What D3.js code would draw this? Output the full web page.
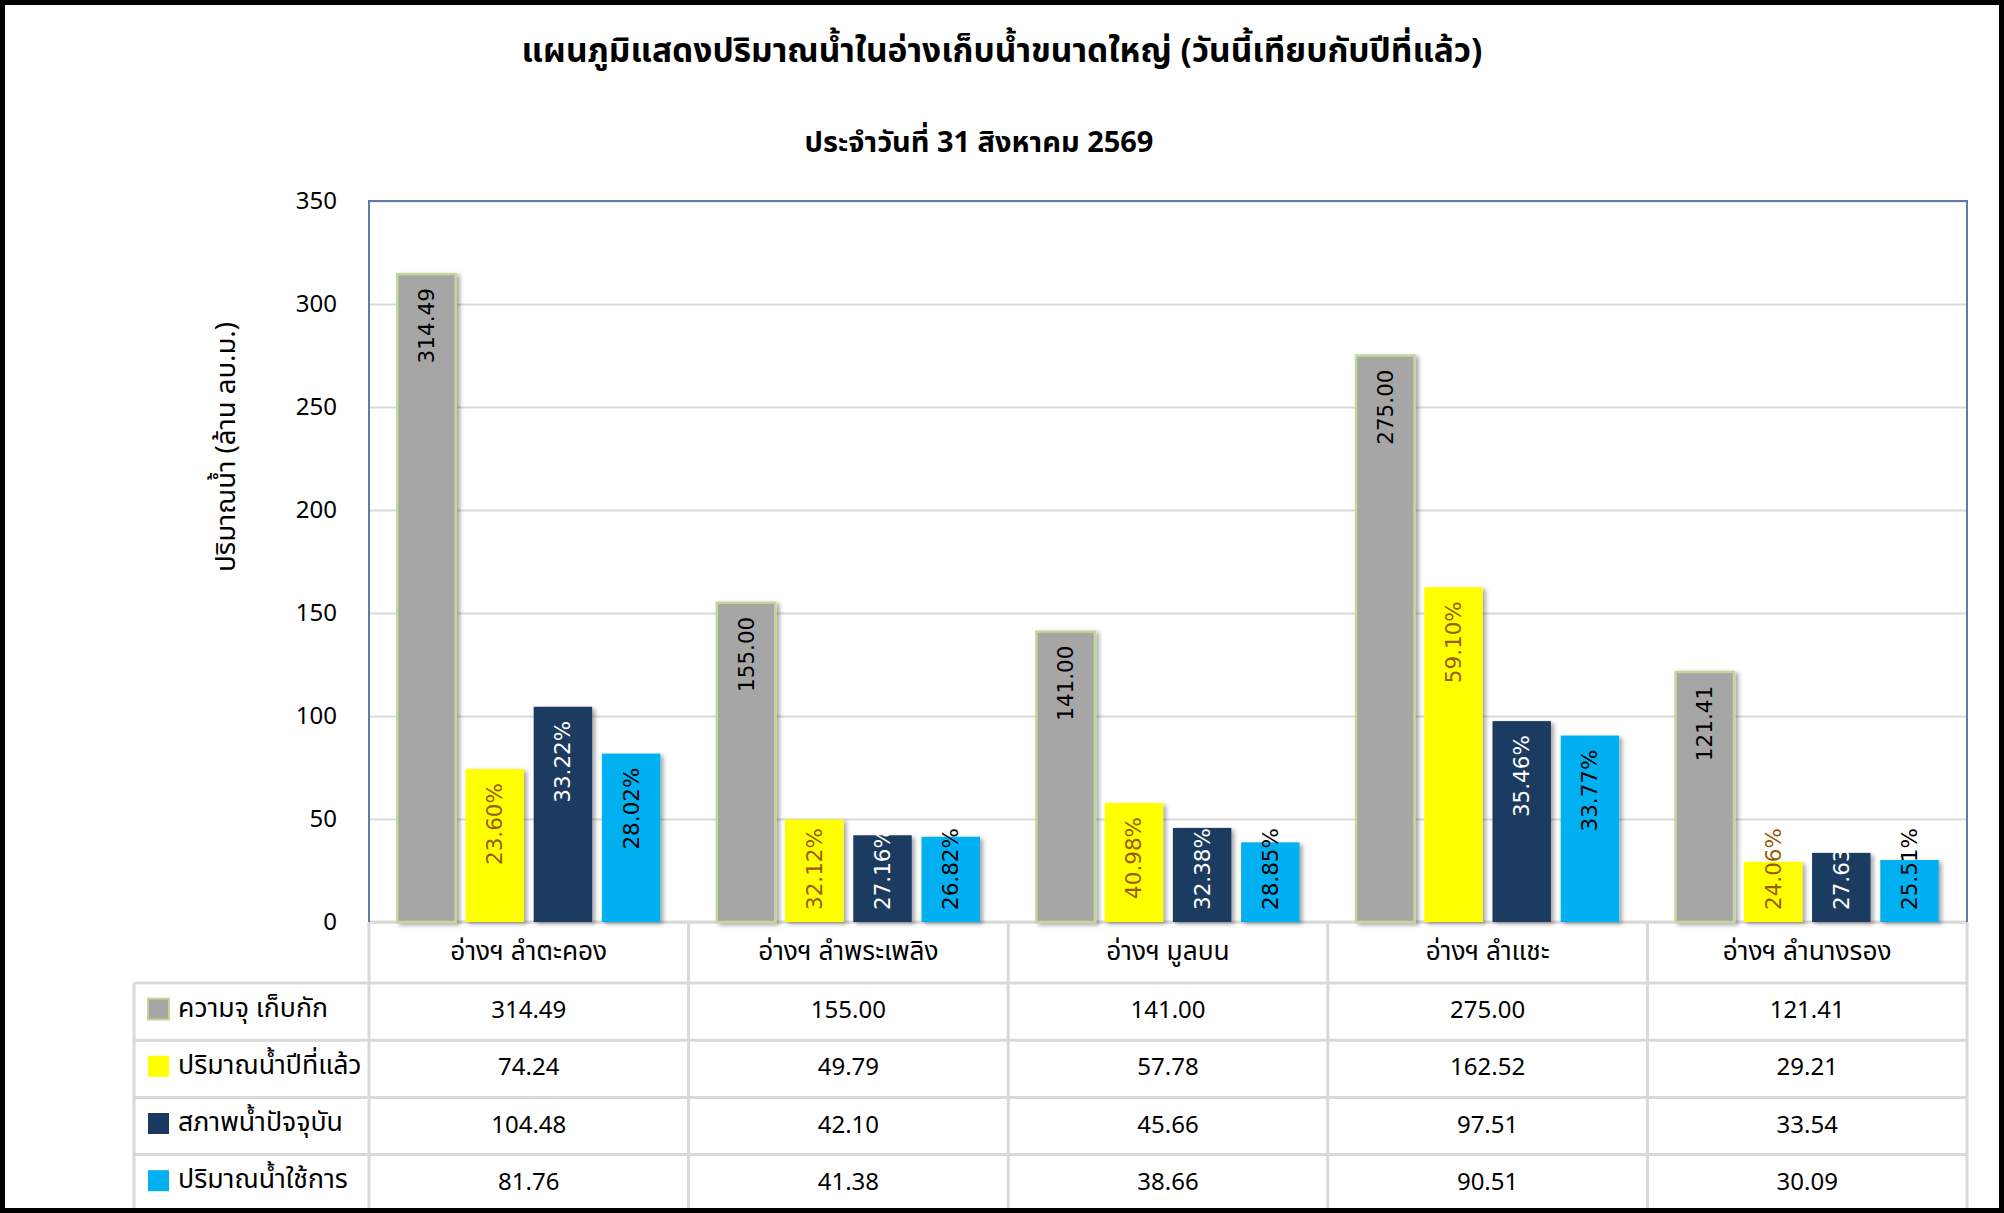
<!DOCTYPE html>
<html>
<head>
<meta charset="utf-8">
<script src="https://cdn.jsdelivr.net/npm/d3@7"></script>
<style>
  html, body { margin: 0; padding: 0; background: #fff; }
  svg { display: block; }
</style>
</head>
<body>
<svg id="chart" width="2004" height="1213"></svg>
<script>
// ---------- DATA ----------
const titleText = "แผนภูมิแสดงปริมาณน้ำในอ่างเก็บน้ำขนาดใหญ่ (วันนี้เทียบกับปีที่แล้ว)";
const subtitleText = "ประจำวันที่ 31 สิงหาคม 2569";
const yAxisTitle = "ปริมาณน้ำ (ล้าน ลบ.ม.)";
const categories = ["อ่างฯ ลำตะคอง", "อ่างฯ ลำพระเพลิง", "อ่างฯ มูลบน", "อ่างฯ ลำแชะ", "อ่างฯ ลำนางรอง"];
const seriesNames = ["ความจุ เก็บกัก", "ปริมาณน้ำปีที่แล้ว", "สภาพน้ำปัจจุบัน", "ปริมาณน้ำใช้การ"];
const capacity = [314.49, 155.00, 141.00, 275.00, 121.41];
const lastYear = [74.24, 49.79, 57.78, 162.52, 29.21];
const current  = [104.48, 42.10, 45.66, 97.51, 33.54];
const usable   = [81.76, 41.38, 38.66, 90.51, 30.09];
const capacityLabels = ["314.49", "155.00", "141.00", "275.00", "121.41"];
const lastYearLabels = ["23.60%", "32.12%", "40.98%", "59.10%", "24.06%"];
const currentLabels  = ["33.22%", "27.16%", "32.38%", "35.46%", "27.63%"];
const usableLabels   = ["28.02%", "26.82%", "28.85%", "33.77%", "25.51%"];
const yTicks = [0, 50, 100, 150, 200, 250, 300, 350];

// ---------- STYLE ----------
const seriesColors = ["#A6A6A6", "#FFFF00", "#1B3A61", "#00B0F0"];
const labelColors  = ["#000000", "#9C5A00", "#FFFFFF", "#000000"];
const thaiFont = "Tahoma, 'Noto Sans Thai', 'Noto Sans', 'DejaVu Sans', sans-serif";
const numFont = "'Noto Sans', 'DejaVu Sans', sans-serif";
const barLabelFont = "'DejaVu Sans', Verdana, sans-serif";

const series = [
  { name: seriesNames[0], values: capacity, labels: capacityLabels },
  { name: seriesNames[1], values: lastYear, labels: lastYearLabels },
  { name: seriesNames[2], values: current,  labels: currentLabels },
  { name: seriesNames[3], values: usable,   labels: usableLabels }
];

const W = 2004, H = 1213;
const plot = { left: 369, right: 1967, top: 201, bottom: 922 };
const legendLeft = 134;
const catRowH = 61, rowH = 57.2;

const svg = d3.select("#chart");

const defs = svg.append("defs");
const f = defs.append("filter").attr("id", "shadow").attr("x", "-20%").attr("y", "-5%").attr("width", "150%").attr("height", "115%");
f.append("feDropShadow").attr("dx", 3).attr("dy", 2).attr("stdDeviation", 2)
  .attr("flood-color", "#000").attr("flood-opacity", 0.35);

// scales
const y = d3.scaleLinear().domain([0, 350]).range([plot.bottom, plot.top]);
const x0 = d3.scaleBand().domain(categories).range([plot.left, plot.right]).paddingInner(0).paddingOuter(0);
const x1 = d3.scaleBand().domain(d3.range(series.length)).range([0, x0.bandwidth()])
  .paddingInner(0.143).paddingOuter(0.414);

function fitWidth(sel, target) {
  const w = sel.node().getComputedTextLength();
  const fs = parseFloat(sel.attr("font-size"));
  if (w > 0) sel.attr("font-size", fs * target / w);
  return fs * target / w;
}

// ---------- TITLE ----------
const t1 = svg.append("text").attr("x", 1002).attr("y", 62).attr("text-anchor", "middle")
  .attr("font-family", thaiFont).attr("font-size", 32).attr("font-weight", "bold").attr("fill", "#000")
  .text(titleText);
fitWidth(t1, 961);
const t2 = svg.append("text").attr("x", 979).attr("y", 152).attr("text-anchor", "middle")
  .attr("font-family", thaiFont).attr("font-size", 26).attr("font-weight", "bold").attr("fill", "#000")
  .text(subtitleText);
fitWidth(t2, 349);

// ---------- GRID ----------
const grid = svg.append("g").attr("transform", `translate(${plot.left},0)`)
  .call(d3.axisLeft(y).tickValues(yTicks).tickSize(-(plot.right - plot.left)).tickFormat(""));
grid.select(".domain").remove();
grid.selectAll(".tick line").attr("stroke", "#D9D9D9").attr("stroke-width", 2);

// y axis labels
const yAxis = svg.append("g").attr("transform", `translate(${plot.left},0)`)
  .call(d3.axisLeft(y).tickValues(yTicks).tickSize(0).tickPadding(32));
yAxis.select(".domain").remove();
yAxis.selectAll(".tick text").attr("font-family", numFont).attr("font-size", 24).attr("fill", "#000");

// y axis title
const yt = svg.append("text").attr("transform", `translate(226,447) rotate(-90)`)
  .attr("text-anchor", "middle").attr("dominant-baseline", "central")
  .attr("font-family", thaiFont).attr("font-size", 24).attr("fill", "#000").text(yAxisTitle);
fitWidth(yt, 250);

// ---------- TABLE ----------
const table = svg.append("g");
const tableColor = "#D9D9D9";
const tableBottom = plot.bottom + catRowH + rowH * series.length;
table.append("line").attr("x1", plot.left).attr("x2", plot.right).attr("y1", plot.bottom).attr("y2", plot.bottom)
  .attr("stroke", tableColor).attr("stroke-width", 3);
series.forEach((s, i) => {
  const yy = plot.bottom + catRowH + rowH * i;
  table.append("line").attr("x1", legendLeft).attr("x2", plot.right).attr("y1", yy).attr("y2", yy)
    .attr("stroke", tableColor).attr("stroke-width", 3);
});
table.append("line").attr("x1", legendLeft).attr("x2", legendLeft)
  .attr("y1", plot.bottom + catRowH).attr("y2", tableBottom).attr("stroke", tableColor).attr("stroke-width", 3);
categories.forEach((c) => {
  const xx = x0(c);
  table.append("line").attr("x1", xx).attr("x2", xx).attr("y1", plot.bottom).attr("y2", tableBottom)
    .attr("stroke", tableColor).attr("stroke-width", 3);
});
table.append("line").attr("x1", plot.right).attr("x2", plot.right).attr("y1", plot.bottom).attr("y2", tableBottom)
  .attr("stroke", tableColor).attr("stroke-width", 3);

// category labels (font size fitted from first label's measured width)
const catTexts = svg.append("g").selectAll("text").data(categories).join("text")
  .attr("x", d => x0(d) + x0.bandwidth() / 2).attr("y", plot.bottom + catRowH / 2 - 1)
  .attr("text-anchor", "middle").attr("dominant-baseline", "central")
  .attr("font-family", thaiFont).attr("font-size", 24).attr("fill", "#000").text(d => d);
const catFs = fitWidth(d3.select(catTexts.nodes()[0]), 157);
catTexts.attr("font-size", catFs);

// legend rows
const legTexts = [];
series.forEach((s, i) => {
  const cy = plot.bottom + catRowH + rowH * i + rowH / 2 - 3;
  svg.append("rect").attr("x", 148).attr("y", cy - 10).attr("width", 21).attr("height", 21)
    .attr("fill", seriesColors[i]).attr("stroke", i === 0 ? "#C4D79B" : "none").attr("stroke-width", 2);
  legTexts.push(svg.append("text").attr("x", 178).attr("y", cy).attr("dominant-baseline", "central")
    .attr("font-family", thaiFont).attr("font-size", 24).attr("fill", "#000").text(s.name));
  svg.append("g").selectAll("text").data(s.values).join("text")
    .attr("x", (d, j) => x0(categories[j]) + x0.bandwidth() / 2).attr("y", cy)
    .attr("text-anchor", "middle").attr("dominant-baseline", "central")
    .attr("font-family", numFont).attr("font-size", 24).attr("fill", "#000")
    .text(d => d.toFixed(2));
});
const legFs = fitWidth(legTexts[0], 150);
legTexts.forEach(t => t.attr("font-size", legFs));

// ---------- BARS ----------
const barsG = svg.append("g");
series.forEach((s, si) => {
  barsG.append("g").selectAll("rect").data(s.values).join("rect")
    .attr("x", (d, j) => x0(categories[j]) + x1(si))
    .attr("y", d => y(d))
    .attr("width", x1.bandwidth())
    .attr("height", d => y(0) - y(d))
    .attr("fill", seriesColors[si])
    .attr("stroke", si === 0 ? "#C4D79B" : "none")
    .attr("stroke-width", si === 0 ? 2.5 : 0)
    .attr("filter", "url(#shadow)");
});

// bar labels
const labelsG = svg.append("g");
series.forEach((s, si) => {
  const g = labelsG.append("g");
  s.values.forEach((v, j) => {
    const cx = x0(categories[j]) + x1(si) + x1.bandwidth() / 2;
    const t = g.append("text")
      .attr("text-anchor", "end").attr("dominant-baseline", "central")
      .attr("font-family", barLabelFont).attr("font-size", 21.5).attr("fill", labelColors[si])
      .text(s.labels[j]);
    const L = t.node().getComputedTextLength();
    const topY = Math.min(y(v) + 14, y(0) - 12 - L);
    t.attr("transform", `translate(${cx},${topY}) rotate(-90)`);
  });
});

// plot frame (top, left, right)
svg.append("path")
  .attr("d", `M${plot.left},${plot.bottom} V${plot.top} H${plot.right} V${plot.bottom}`)
  .attr("fill", "none").attr("stroke", "#5B7FA8").attr("stroke-width", 2);

// outer border
svg.append("rect").attr("x", 2.5).attr("y", 2.5).attr("width", W - 5).attr("height", H - 5)
  .attr("fill", "none").attr("stroke", "#000").attr("stroke-width", 5);
</script>
</body>
</html>
